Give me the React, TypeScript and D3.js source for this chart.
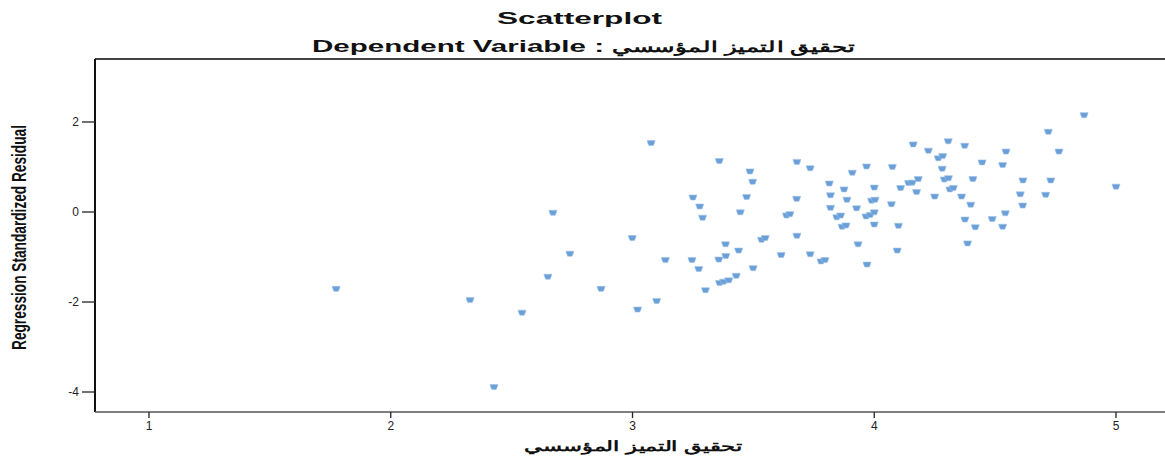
import React from "react";
import * as d3 from "d3";

const xValues: number[] = [
  1.774, 2.328, 2.543, 2.427, 2.671, 2.65, 2.741, 2.87,
  3.077, 3.359, 3.486, 3.497, 3.68, 3.735, 3.814, 3.909, 3.968, 4.075, 4.161, 3.875,
  4.0, 4.109, 4.142, 4.157, 4.182, 4.175, 3.25, 3.278, 3.29, 3.472,
  3.446, 3.679, 3.637, 3.651, 3.819, 3.819, 3.887, 3.927, 3.845, 3.861,
  3.867, 3.883, 3.989, 4.003, 3.966, 3.983, 4.0, 4.0, 4.071, 4.1,
  2.999, 3.136, 3.021, 3.1, 3.246, 3.274, 3.302, 3.385, 3.357, 3.386,
  3.439, 3.36, 3.377, 3.398, 3.429, 3.499, 3.534, 3.549, 3.615, 3.68,
  3.735, 3.78, 3.796, 3.933, 3.97, 4.095,
  4.868, 4.72, 4.764, 4.545, 4.224, 4.306, 4.374, 4.265, 4.283, 4.281,
  4.446, 4.531, 4.25, 4.29, 4.307, 4.313, 4.327, 4.408, 4.361, 4.399,
  4.375, 4.418, 4.386, 4.488, 4.542, 4.531, 4.615, 4.604, 4.614, 4.73,
  4.709, 5.0,
];

const yValues: number[] = [
  -1.71, -1.96, -2.24, -3.89, -0.02, -1.44, -0.93, -1.71,
  1.53, 1.13, 0.9, 0.67, 1.11, 0.97, 0.63, 0.87, 1.01, 1.0, 1.5, 0.5,
  0.54, 0.53, 0.64, 0.65, 0.73, 0.44, 0.32, 0.12, -0.13, 0.33,
  -0.01, 0.29, -0.08, -0.05, 0.37, 0.09, 0.27, 0.08, -0.12, -0.08,
  -0.33, -0.3, 0.25, 0.27, -0.1, -0.07, -0.01, -0.28, 0.17, -0.31,
  -0.58, -1.07, -2.17, -1.98, -1.07, -1.27, -1.74, -0.72, -1.06, -0.98,
  -0.86, -1.58, -1.55, -1.52, -1.42, -1.25, -0.62, -0.58, -0.96, -0.53,
  -0.94, -1.1, -1.07, -0.72, -1.17, -0.86,
  2.15, 1.78, 1.34, 1.34, 1.36, 1.57, 1.47, 1.19, 1.24, 0.96,
  1.1, 1.04, 0.34, 0.72, 0.75, 0.5, 0.53, 0.73, 0.34, 0.16,
  -0.17, -0.34, -0.7, -0.16, -0.03, -0.33, 0.7, 0.39, 0.14, 0.7,
  0.38, 0.56,
];

const xTicks: number[] = [1, 2, 3, 4, 5];
const yTicks: number[] = [2, 0, -2, -4];

const titleText = "Scatterplot";
const subtitleLatin = "Dependent Variable :";
const subtitleArabic = "تحقيق التميز المؤسسي";
const xLabel = "تحقيق التميز المؤسسي";
const yLabel = "Regression Standardized Residual";

const W = 1165;
const H = 458;
const frameLeft = 95;
const frameTop = 59;
const frameBottom = 412;
const frameRight = 1165;

const FONT = "'Liberation Sans', Arial, Helvetica, sans-serif";

export default function App() {
  const x = d3.scaleLinear().domain([1, 5]).range([149, 1116]);
  const y = d3.scaleLinear().domain([-4, 2]).range([392, 122]);

  const marker = "M-4,-2.6 L4,-2.6 L3.2,0 L2.2,2.4 L-2.2,2.4 L-3.2,0 Z";

  return (
    <svg
      width={W}
      height={H}
      style={{ position: "absolute", left: 0, top: 0, background: "#fff" }}
      fontFamily={FONT}
    >
      <rect x={0} y={0} width={W} height={H} fill="#fff" />
      {/* titles */}
      <text x={497} y={24} fontSize={17} fontWeight="bold" fill="#111" textLength={165} lengthAdjust="spacingAndGlyphs">
        {titleText}
      </text>
      <text x={312} y={52} fontSize={16} fontWeight="bold" fill="#111" textLength={292} lengthAdjust="spacingAndGlyphs">
        {subtitleLatin}
      </text>
      <text x={855} y={52} fontSize={15} fontWeight="bold" fill="#111" textLength={243} lengthAdjust="spacingAndGlyphs" direction="rtl" style={{ unicodeBidi: "plaintext" }}>
        {subtitleArabic}
      </text>

      {/* frame */}
      <line x1={frameLeft} x2={frameRight} y1={frameTop} y2={frameTop} stroke="#444" strokeWidth={2} />
      <line x1={frameLeft} x2={frameLeft} y1={frameTop} y2={frameBottom} stroke="#111" strokeWidth={2} />
      <line x1={frameLeft} x2={frameRight} y1={frameBottom} y2={frameBottom} stroke="#555" strokeWidth={1.5} />

      {/* y ticks */}
      {yTicks.map((t) => (
        <g key={"y" + t}>
          <line x1={82} x2={frameLeft} y1={y(t)} y2={y(t)} stroke="#222" strokeWidth={1.3} />
          <text x={79} y={y(t) + 4} fontSize={12} fill="#222" textAnchor="end">
            {t}
          </text>
        </g>
      ))}

      {/* x ticks */}
      {xTicks.map((t) => (
        <g key={"x" + t}>
          <line x1={x(t)} x2={x(t)} y1={frameBottom} y2={frameBottom + 6} stroke="#222" strokeWidth={1.3} />
          <text x={x(t)} y={frameBottom + 18} fontSize={12} fill="#222" textAnchor="middle">
            {t}
          </text>
        </g>
      ))}

      {/* axis labels */}
      <text x={742} y={451} fontSize={14} fontWeight="bold" fill="#111" textLength={218} lengthAdjust="spacingAndGlyphs" direction="rtl" style={{ unicodeBidi: "plaintext" }}>
        {xLabel}
      </text>
      <text
        transform={`translate(26,${350}) rotate(-90)`}
        fontSize={20}
        fontWeight="bold"
        fill="#111"
        textLength={225}
        lengthAdjust="spacingAndGlyphs"
      >
        {yLabel}
      </text>

      {/* points */}
      <g fill="#6a9fd8" stroke="#9cc1e8" strokeWidth={0.6}>
        {xValues.map((v, i) => (
          <path key={i} d={marker} transform={`translate(${x(v)},${y(yValues[i])})`} />
        ))}
      </g>
    </svg>
  );
}
